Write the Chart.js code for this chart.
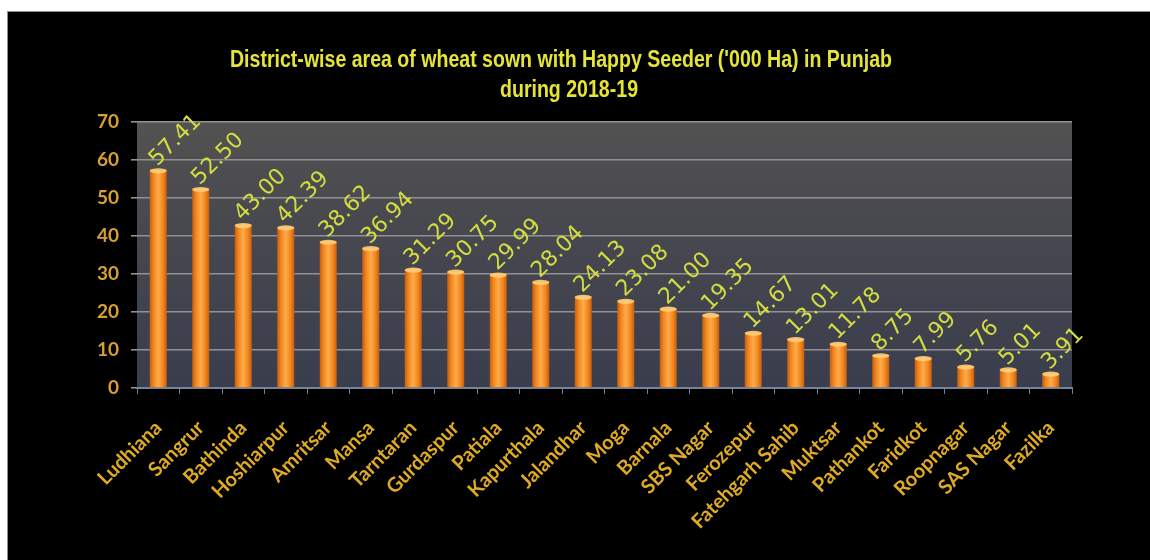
<!DOCTYPE html>
<html>
<head>
<meta charset="utf-8">
<script src="https://cdn.jsdelivr.net/npm/chart.js@4.4.1/dist/chart.umd.min.js"></script>
<style>
  html, body { margin: 0; padding: 0; background: #ffffff; width: 1150px; height: 560px; overflow: hidden; }
  #panel { position: absolute; left: 7px; top: 11px; width: 1143px; height: 549px; background: #000;
           border-left: 1px solid #8c8c8c; border-top: 1px solid #8c8c8c; box-sizing: border-box; }
  #wrap { position: absolute; left: 0; top: 0; width: 1142px; height: 548px; }
</style>
</head>
<body>
<div id="panel"><div id="wrap"><canvas id="c"></canvas></div></div>
<script>
// District-wise area of wheat sown with Happy Seeder, Punjab 2018-19 ('000 Ha)
const districts = [
  'Ludhiana', 'Sangrur', 'Bathinda', 'Hoshiarpur', 'Amritsar', 'Mansa', 'Tarntaran',
  'Gurdaspur', 'Patiala', 'Kapurthala', 'Jalandhar', 'Moga', 'Barnala', 'SBS Nagar',
  'Ferozepur', 'Fatehgarh Sahib', 'Muktsar', 'Pathankot', 'Faridkot', 'Roopnagar',
  'SAS Nagar', 'Fazilka'
];
const areaThousandHa = [
  57.41, 52.50, 43.00, 42.39, 38.62, 36.94, 31.29,
  30.75, 29.99, 28.04, 24.13, 23.08, 21.00, 19.35,
  14.67, 13.01, 11.78, 8.75, 7.99, 5.76,
  5.01, 3.91
];
const titleLines = [
  "District-wise area of wheat sown with Happy Seeder ('000 Ha) in Punjab",
  'during 2018-19'
];
const yMin = 0, yMax = 70, yStep = 10;

const BAR_PCT = 0.4;

// Two-line condensed bold heading above the plot
const heading = {
  id: 'heading',
  afterDraw(chart) {
    const { ctx } = chart;
    ctx.save();
    ctx.font = 'bold 24px "Liberation Sans", Arial, sans-serif';
    const w0 = ctx.measureText(titleLines[0]).width;
    const sx = 662 / w0;
    ctx.fillStyle = '#e6e535';
    ctx.textAlign = 'center';
    ctx.textBaseline = 'alphabetic';
    const cx = 553;
    [[titleLines[0], 55, 0], [titleLines[1], 85, 8]].forEach(([t, y, dx]) => {
      ctx.save();
      ctx.translate(cx + dx, y);
      ctx.scale(sx, 1);
      ctx.fillText(t, 0, 0);
      ctx.restore();
    });
    ctx.restore();
  }
};

// Grey-to-slate fill behind the plotting area
const plotBackground = {
  id: 'plotBackground',
  beforeDraw(chart) {
    const { ctx, chartArea: a } = chart;
    if (!a) return;
    const g = ctx.createLinearGradient(0, a.top, 0, a.bottom);
    g.addColorStop(0, '#525252');
    g.addColorStop(0.45, '#46474f');
    g.addColorStop(1, '#3a3d4d');
    ctx.save();
    ctx.fillStyle = g;
    ctx.fillRect(a.left, a.top, a.right - a.left, a.bottom - a.top);
    ctx.restore();
  }
};

// Cylinder caps and rotated value labels on top of each bar
const barDecor = {
  id: 'barDecor',
  afterDatasetsDraw(chart) {
    const { ctx } = chart;
    const meta = chart.getDatasetMeta(0);
    meta.data.forEach((bar, i) => {
      const v = areaThousandHa[i];
      ctx.save();
      ctx.beginPath();
      ctx.ellipse(bar.x, bar.y + 1, bar.width / 2, 2.6, 0, 0, Math.PI * 2);
      ctx.fillStyle = 'rgba(255, 205, 120, 0.9)';
      ctx.fill();
      ctx.restore();

      ctx.save();
      ctx.translate(bar.x - 1, bar.y - 3);
      ctx.rotate(-Math.PI / 4);
      ctx.font = '22px "DejaVu Sans", sans-serif';
      ctx.fillStyle = '#d3dd40';
      ctx.textAlign = 'left';
      ctx.textBaseline = 'alphabetic';
      ctx.fillText(v.toFixed(2), 0, 0);
      ctx.restore();
    });
  }
};

function barFill(context) {
  const chart = context.chart;
  const xs = chart.scales.x;
  if (!chart.chartArea || !xs) return '#f08a22';
  const cx = xs.getPixelForValue(context.dataIndex);
  const w = (xs.width / districts.length) * BAR_PCT;
  const g = chart.ctx.createLinearGradient(cx - w / 2, 0, cx + w / 2, 0);
  g.addColorStop(0, '#c45e10');
  g.addColorStop(0.22, '#f2861e');
  g.addColorStop(0.5, '#ffac4a');
  g.addColorStop(0.78, '#f2861e');
  g.addColorStop(1, '#c45e10');
  return g;
}

new Chart(document.getElementById('c'), {
  type: 'bar',
  data: {
    labels: districts,
    datasets: [{
      data: areaThousandHa,
      backgroundColor: barFill,
      borderWidth: 0,
      barPercentage: BAR_PCT,
      categoryPercentage: 1
    }]
  },
  options: {
    responsive: true,
    maintainAspectRatio: false,
    animation: false,
    layout: { padding: { left: 0, right: 78, top: 110, bottom: 0 } },
    plugins: {
      legend: { display: false },
      tooltip: { enabled: false },
      title: { display: false }
    },
    scales: {
      x: {
        grid: { display: true, drawOnChartArea: false, drawTicks: true, tickLength: 6, color: '#71819a', offset: true },
        border: { display: true, color: '#75859c', width: 2 },
        ticks: {
          color: '#e0ab22',
          font: { family: 'Lato, sans-serif', size: 20, weight: 'bold' },
          minRotation: 45, maxRotation: 45, autoSkip: false, padding: 22
        },
        afterFit(s) { s.height = 172; }
      },
      y: {
        min: yMin, max: yMax,
        ticks: {
          stepSize: yStep,
          color: '#d8a032',
          font: { family: 'Lato, sans-serif', size: 19, weight: 'bold' },
          padding: 12
        },
        grid: { color: '#929292', lineWidth: 1.6, tickLength: 6 },
        border: { display: false },
        afterFit(s) { s.width = 129; }
      }
    }
  },
  plugins: [plotBackground, barDecor, heading]
});
</script>
</body>
</html>
